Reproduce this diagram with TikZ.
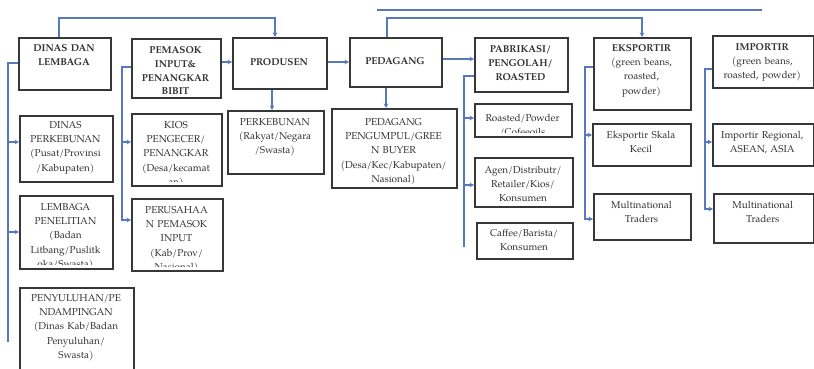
\documentclass[tikz,border=0pt]{standalone}
\usepackage{fontspec}
\setmainfont{texgyrepagella}[Extension=.otf,UprightFont=*-regular,BoldFont=*-bold,ItalicFont=*-italic,BoldItalicFont=*-bolditalic]
\usetikzlibrary{arrows.meta}
\definecolor{cblue}{RGB}{88,120,190}
\definecolor{bgray}{RGB}{55,55,55}
\definecolor{tgray}{RGB}{50,50,50}
\newcommand\mybox[8]{%
  \pgfmathsetmacro\bxw{#4-#2}%
  \pgfmathsetmacro\bxh{#5-#3}%
  \pgfmathsetmacro\bxc{(#2+#4)/2}%
  \begin{scope}
    \clip (#2,#3) rectangle (#4,#5-4);
    \node[txt,font=#7,text width=\bxw pt,anchor=base] at (\bxc,#6) {#8};
  \end{scope}
  \node[box,minimum width=\bxw pt,minimum height=\bxh pt,anchor=north west] (#1) at (#2,#3) {};
}
\begin{document}
\begin{tikzpicture}[x=1pt,y=-1pt,
  txt/.style={inner sep=0pt,align=center,text=tgray},
  box/.style={draw=bgray,line width=1.6pt,inner sep=0pt},
  conn/.style={draw=cblue,line width=1.2pt},
  arr/.style={conn,-{Stealth[length=4.5pt,width=4.5pt]}}]
\fill[white] (0,0) rectangle (814,369);
\useasboundingbox (0,0) rectangle (814,369);
\def\fr{\fontsize{10}{14.2}\selectfont}
\def\fb{\fontsize{10}{13.8}\selectfont\bfseries}
% main row
\mybox{dinas}{18}{37}{110}{89}{51.5}{\fb}{DINAS DAN\\LEMBAGA}
\mybox{pemasok}{131}{38}{220}{97}{53.5}{\fb}{PEMASOK\\INPUT\&\\PENANGKAR\\BIBIT}
\mybox{produsen}{232}{37}{326}{88}{65.5}{\fb}{PRODUSEN}
\mybox{pedagang}{349}{37}{441}{86}{64.5}{\fb}{PEDAGANG}
\mybox{pabrik}{474}{37}{567}{91}{52.5}{\fb}{PABRIKASI/\\PENGOLAH/\\ROASTED}
\mybox{ekspor}{593}{37}{690}{109}{51.5}{\fr}{\textbf{EKSPORTIR}\\(green beans,\\roasted,\\powder)}
\mybox{impor}{712}{35}{812.5}{87}{50.5}{\fr}{\textbf{IMPORTIR}\\(green beans,\\roasted, powder)}
% sub boxes
\mybox{dperk}{19}{115}{112}{181}{128.5}{\fr}{DINAS\\PERKEBUNAN\\(Pusat/Provinsi\\/Kabupaten)}
\mybox{lembaga}{19}{195}{112}{268}{210.5}{\fr}{LEMBAGA\\PENELITIAN\\(Badan\\Litbang/Puslitk\\oka/Swasta)}
\mybox{penyul}{19}{287}{133}{375}{301.5}{\fr}{PENYULUHAN/PE\\NDAMPINGAN\\(Dinas Kab/Badan\\Penyuluhan/\\Swasta)}
\mybox{kios}{131}{113}{221}{185}{128.5}{\fr}{KIOS\\PENGECER/\\PENANGKAR\\(Desa/kecamat\\an)}
\mybox{perus}{131}{198}{222}{270}{213.5}{\fr}{PERUSAHAA\\N PEMASOK\\INPUT\\(Kab/Prov/\\Nasional)}
\mybox{perkeb}{227}{110}{323}{173}{125.5}{\fr}{PERKEBUNAN\\(Rakyat/Negara\\/Swasta)}
\mybox{pengumpul}{331}{108}{456}{187}{125.5}{\fr}{PEDAGANG\\PENGUMPUL/GREE\\N BUYER\\(Desa/Kec/Kabupaten/\\Nasional)}
\mybox{roasted}{474}{103}{571}{136}{121.5}{\fr}{Roasted/Powder\\/Cofeeoils}
\mybox{agen}{474}{157}{572}{206}{173.5}{\fr}{Agen/Distributr/\\Retailer/Kios/\\Konsumen}
\mybox{caffee}{476}{222}{572}{258}{236.5}{\fr}{Caffee/Barista/\\Konsumen}
\mybox{esk}{592}{123}{690}{165}{138.5}{\fr}{Eksportir Skala\\Kecil}
\mybox{emn}{593}{193}{690}{239}{208.5}{\fr}{Multinational\\Traders}
\mybox{ireg}{712}{123}{812.5}{165}{138.5}{\fr}{Importir Regional,\\ASEAN, ASIA}
\mybox{imn}{713}{193}{812.5}{242}{208.5}{\fr}{Multinational\\Traders}
% top connectors
\coordinate (ta) at (59,18); \coordinate (tb) at (275,18);
\draw[arr] (ta |- dinas.north) -- (ta) -- (tb) -- (tb |- produsen.north);
\coordinate (la) at (377,10); \coordinate (lb) at (762,10);
\draw[conn] (la) -- (lb);
\coordinate (pa) at (387,18); \coordinate (pb) at (642,18);
\draw[arr] (pa |- pedagang.north) -- (pa) -- (pb) -- (pb |- ekspor.north);
% horizontal arrows
\draw[arr] (pemasok.east |- 0,62) -- (produsen.west |- 0,62);
\draw[arr] (produsen.east |- 0,62) -- (pedagang.west |- 0,62);
\draw[arr] (pedagang.east |- 0,59) -- (pabrik.west |- 0,59);
% down arrows
\draw[arr] (produsen.south -| 272,0) -- (perkeb.north -| 272,0);
\draw[arr] (pedagang.south -| 386,0) -- (pengumpul.north -| 386,0);
% column 1
\coordinate (k1) at (8,63); \coordinate (k1e) at (8,342);
\draw[conn] (dinas.west |- k1) -- (k1) -- (k1e);
\draw[arr] (k1 |- 0,142) -- (dperk.west |- 0,142);
\draw[arr] (k1 |- 0,232) -- (lembaga.west |- 0,232);
% column 2
\coordinate (k2) at (122,67);
\draw[arr] (pemasok.west |- k2) -- (k2) |- (perus.west |- 0,220);
\draw[arr] (k2 |- 0,142) -- (kios.west |- 0,142);
% column 5
\coordinate (k5) at (464,76); \coordinate (k5e) at (464,247);
\draw[conn] (pabrik.west |- k5) -- (k5) -- (k5e);
\draw[arr] (k5 |- 0,118) -- (roasted.west |- 0,118);
\draw[arr] (k5 |- 0,185) -- (agen.west |- 0,185);
% column 6
\coordinate (k6) at (585,67);
\draw[arr] (ekspor.west |- k6) -- (k6) |- (emn.west |- 0,219);
\draw[arr] (k6 |- 0,135) -- (esk.west |- 0,135);
% column 7
\coordinate (k7) at (705,69);
\draw[arr] (impor.west |- k7) -- (k7) |- (imn.west |- 0,209);
\draw[arr] (k7 |- 0,142) -- (ireg.west |- 0,142);
\end{tikzpicture}
\end{document}
